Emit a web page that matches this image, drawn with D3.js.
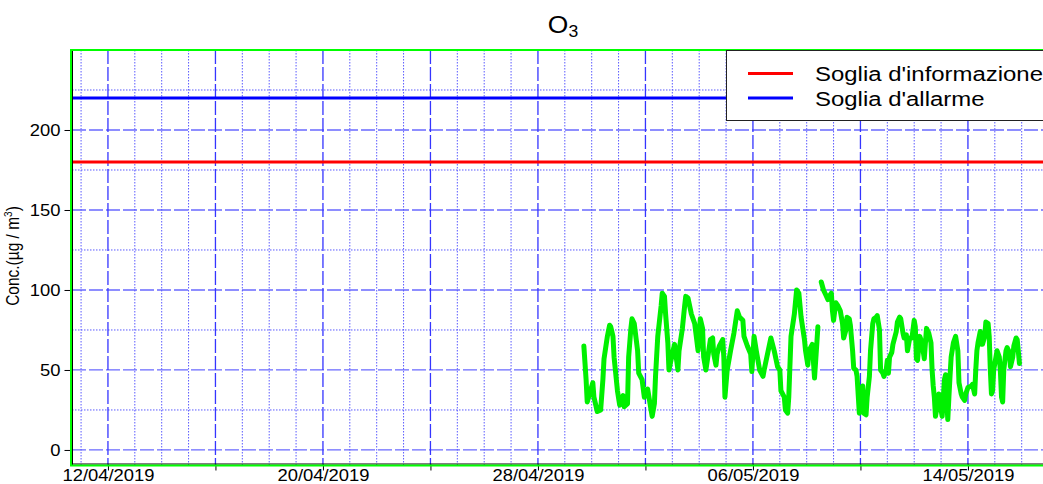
<!DOCTYPE html>
<html><head><meta charset="utf-8">
<script src="https://cdn.jsdelivr.net/npm/d3@7"></script>
<style>body{margin:0;background:#fff;} svg{display:block;font-family:"Liberation Sans",Arial,sans-serif;}</style>
</head><body><svg id="chart" width="1043" height="484"></svg>
<script>
// ---------- data ----------
const titleMain = "O";
const titleSub = "3";
const yLabelMain = "Conc.(µg / m";
const yLabelSup = "3";
const yLabelEnd = ")";
const yTicks = [0, 50, 100, 150, 200];
const yMinorGrid = [25, 75, 125, 175, 225];
const xTickDates = ["12/04/2019","16/04/2019","20/04/2019","24/04/2019","28/04/2019","02/05/2019","06/05/2019","10/05/2019","14/05/2019"];
const xTickLabels = ["12/04/2019","","20/04/2019","","28/04/2019","","06/05/2019","","14/05/2019"];
const xDomain = ["10/04/2019 15", "17/05/2019 12"];
const yDomain = [-9.4, 250];
const thresholdNames = ["Soglia d'informazione", "Soglia d'allarme"];
const thresholdValues = [180, 220];

const times = [
"29/04/2019 17","29/04/2019 19","29/04/2019 20","30/04/2019 01","30/04/2019 02","30/04/2019 05","30/04/2019 08","30/04/2019 10","30/04/2019 11","30/04/2019 14",
"30/04/2019 16","30/04/2019 17","30/04/2019 19","30/04/2019 20","30/04/2019 23","01/05/2019 01","01/05/2019 04","01/05/2019 05","01/05/2019 08","01/05/2019 09",
"01/05/2019 11","01/05/2019 12","01/05/2019 14","01/05/2019 17","01/05/2019 18","01/05/2019 21","01/05/2019 23","02/05/2019 02","02/05/2019 05","02/05/2019 06",
"02/05/2019 08","02/05/2019 09","02/05/2019 11","02/05/2019 14","02/05/2019 15","02/05/2019 17","02/05/2019 18","02/05/2019 20","02/05/2019 21","03/05/2019 00",
"03/05/2019 02","03/05/2019 05","03/05/2019 06","03/05/2019 09","03/05/2019 11","03/05/2019 12","03/05/2019 14","03/05/2019 17","03/05/2019 20","03/05/2019 23",
"04/05/2019 01","04/05/2019 03","04/05/2019 04","04/05/2019 06","04/05/2019 10","04/05/2019 12","04/05/2019 13","04/05/2019 15","04/05/2019 16","04/05/2019 18",
"04/05/2019 21","04/05/2019 22","04/05/2019 23","05/05/2019 01","05/05/2019 04","05/05/2019 07","05/05/2019 10","05/05/2019 12","05/05/2019 15","05/05/2019 16",
"05/05/2019 19","05/05/2019 22","05/05/2019 23","06/05/2019 01","06/05/2019 03","06/05/2019 06","06/05/2019 09","06/05/2019 10","06/05/2019 13","06/05/2019 16",
"06/05/2019 19","06/05/2019 22","07/05/2019 00","07/05/2019 01","07/05/2019 04","07/05/2019 05","07/05/2019 07","07/05/2019 08","07/05/2019 10","07/05/2019 13",
"07/05/2019 15","07/05/2019 17","07/05/2019 19","07/05/2019 22","07/05/2019 23","08/05/2019 01","08/05/2019 02","08/05/2019 05","08/05/2019 07","08/05/2019 09",
"08/05/2019 10","08/05/2019 11","08/05/2019 13","08/05/2019 15","08/05/2019 17","08/05/2019 19","08/05/2019 20","08/05/2019 22","08/05/2019 23","09/05/2019 00",
"09/05/2019 02","09/05/2019 04","09/05/2019 06","09/05/2019 08","09/05/2019 09","09/05/2019 11","09/05/2019 12","09/05/2019 14","09/05/2019 15","09/05/2019 17",
"09/05/2019 18","09/05/2019 20","09/05/2019 21","09/05/2019 23","10/05/2019 00","10/05/2019 02","10/05/2019 03","10/05/2019 05","10/05/2019 06","10/05/2019 08",
"10/05/2019 09","10/05/2019 11","10/05/2019 12","10/05/2019 14","10/05/2019 15","10/05/2019 17","10/05/2019 18","10/05/2019 20","10/05/2019 21","10/05/2019 23",
"11/05/2019 00","11/05/2019 01","11/05/2019 02","11/05/2019 04","11/05/2019 05","11/05/2019 08","11/05/2019 09","11/05/2019 11","11/05/2019 12","11/05/2019 14",
"11/05/2019 15","11/05/2019 17","11/05/2019 18","11/05/2019 20","11/05/2019 22","12/05/2019 00","12/05/2019 01","12/05/2019 02","12/05/2019 03","12/05/2019 05",
"12/05/2019 06","12/05/2019 08","12/05/2019 09","12/05/2019 11","12/05/2019 13","12/05/2019 15","12/05/2019 16","12/05/2019 17","12/05/2019 18","12/05/2019 19",
"12/05/2019 21","12/05/2019 22","13/05/2019 00","13/05/2019 01","13/05/2019 03","13/05/2019 04","13/05/2019 06","13/05/2019 07","13/05/2019 08","13/05/2019 09",
"13/05/2019 11","13/05/2019 13","13/05/2019 15","13/05/2019 16","13/05/2019 18","13/05/2019 19","13/05/2019 21","13/05/2019 22","14/05/2019 00","14/05/2019 03",
"14/05/2019 04","14/05/2019 06","14/05/2019 07","14/05/2019 08","14/05/2019 09","14/05/2019 11","14/05/2019 12","14/05/2019 13","14/05/2019 15","14/05/2019 16",
"14/05/2019 18","14/05/2019 19","14/05/2019 20","14/05/2019 21","14/05/2019 22","14/05/2019 23","15/05/2019 01","15/05/2019 02","15/05/2019 04","15/05/2019 05",
"15/05/2019 06","15/05/2019 07","15/05/2019 08","15/05/2019 10","15/05/2019 11","15/05/2019 13","15/05/2019 14","15/05/2019 16","15/05/2019 17","15/05/2019 19",
"15/05/2019 20","15/05/2019 22"
];
const o3Values = [
65,44,30,42,33,24,25,44,57,71,
78,77,71,58,37,28,34,27,29,58,
76,82,79,62,48,44,33,38,25,21,
29,46,71,90,98,96,85,67,50,60,
66,50,62,76,90,96,95,85,79,62,
82,76,58,50,69,70,60,53,60,65,
69,58,33,50,62,73,87,83,81,71,
65,60,49,71,62,50,46,50,60,70,
62,52,50,37,33,25,23,33,71,85,
100,98,83,69,62,53,62,66,45,66,
77,null,105,100,97,94,96,98,87,81,
92,90,87,79,70,75,83,82,78,62,
51,50,46,23,33,40,23,22,33,46,
62,79,82,83,84,75,50,48,46,50,
56,48,58,61,66,74,80,83,82,73,
70,72,62,70,70,81,77,57,56,71,
69,62,57,76,73,67,50,40,33,21,
29,35,25,21,44,47,19,33,46,58,
67,71,62,42,35,33,31,35,39,40,
41,35,50,62,67,74,66,66,71,80,
79,71,50,35,37,50,58,62,58,49,
33,30,50,62,64,61,52,58,65,70,
69,54
];

// ---------- styles ----------
const FONT_SX = 1.15;
const colInfo = "#ff0000", colAlarm = "#0000ff", colSeries = "#00f000";

// ---------- setup ----------
const svg = d3.select("#chart");
const parseH = d3.timeParse("%d/%m/%Y %H");
const parseD = d3.timeParse("%d/%m/%Y");
const pLeft = 71, pTop = 50, pBottom = 465, pRight = 1062;

const x = d3.scaleTime().domain(xDomain.map(parseH)).range([pLeft, pRight]);
const y = d3.scaleLinear().domain(yDomain).range([pBottom, pTop]);

const data = times.map((t, i) => ({t: parseH(t), v: o3Values[i]}));

// grid: horizontal
const g = svg.append("g");
g.selectAll(".hmaj").data(yTicks).join("line")
  .attr("x1", pLeft + 1).attr("x2", 1043)
  .attr("y1", d => y(d)).attr("y2", d => y(d))
  .attr("stroke", "#6a6aff").attr("stroke-width", 1.3).attr("stroke-dasharray", "14,3");
g.selectAll(".hmin").data(yMinorGrid).join("line")
  .attr("x1", pLeft + 1).attr("x2", 1043)
  .attr("y1", d => y(d)).attr("y2", d => y(d))
  .attr("stroke", "#5a5aff").attr("stroke-width", 1).attr("stroke-dasharray", "1.5,1.5");

// grid: vertical (daily dotted, 4-day dashed)
const dayLines = d3.timeDay.range(parseD("11/04/2019"), parseD("18/05/2019"));
const ref = parseD("12/04/2019");
g.selectAll(".vline").data(dayLines).join("line")
  .attr("x1", d => x(d)).attr("x2", d => x(d))
  .attr("y1", pTop).attr("y2", pBottom)
  .each(function(d) {
    const n = Math.round((d - ref) / 864e5);
    const major = ((n % 4) + 4) % 4 === 0;
    d3.select(this)
      .attr("stroke", major ? "#3535ff" : "#5a5aff")
      .attr("stroke-width", major ? 1.3 : 1)
      .attr("stroke-dasharray", major ? "14,3" : "1.5,1.5");
  });

// thresholds
const thrColors = [colInfo, colAlarm];
svg.selectAll(".thr").data(thresholdValues).join("line")
  .attr("x1", pLeft + 1).attr("x2", 1043)
  .attr("y1", d => y(d)).attr("y2", d => y(d))
  .attr("stroke", (d, i) => thrColors[i]).attr("stroke-width", 3);

// series
const line = d3.line().defined(d => d.v !== null).x(d => x(d.t)).y(d => y(d.v));
svg.append("path").datum(data)
  .attr("d", line).attr("fill", "none")
  .attr("stroke", colSeries).attr("stroke-width", 5)
  .attr("stroke-linejoin", "round").attr("stroke-linecap", "round");

// axes
const yAxis = d3.axisLeft(y).tickValues(yTicks).tickSize(8).tickSizeOuter(0);
const ya = svg.append("g").attr("transform", "translate(72.5,0)").call(yAxis);
ya.select(".domain").remove();
ya.selectAll(".tick line").attr("stroke", "#000");
ya.selectAll("text").attr("font-size", 16).attr("font-family", "Liberation Sans, Arial, sans-serif")
  .attr("fill", "#000").attr("x", -10.5).attr("transform", `scale(${FONT_SX},1)`);

const xAxis = d3.axisBottom(x).tickValues(xTickDates.map(parseD))
  .tickFormat((d, i) => xTickLabels[i]).tickSize(6).tickSizeOuter(0);
const xa = svg.append("g").attr("transform", "translate(0,464.5)").call(xAxis);
xa.select(".domain").remove();
xa.selectAll(".tick line").attr("stroke", "#000");
xa.selectAll("text").attr("font-size", 16).attr("font-family", "Liberation Sans, Arial, sans-serif")
  .attr("fill", "#000").attr("y", 5).attr("transform", `scale(${FONT_SX},1)`);

// black axis lines
svg.append("line").attr("x1", 72.5).attr("x2", 72.5).attr("y1", pTop).attr("y2", pBottom).attr("stroke", "#000");
svg.append("line").attr("x1", 72).attr("x2", 1043).attr("y1", 464).attr("y2", 464).attr("stroke", "#000");

// green frame
svg.append("rect").attr("x", 71).attr("y", 50).attr("width", pRight + 20 - 71).attr("height", 415.5)
  .attr("fill", "none").attr("stroke", "#00ff00").attr("stroke-width", 2);

// legend
const lg = svg.append("g");
lg.append("rect").attr("x", 726.5).attr("y", 50.5).attr("width", 340).attr("height", 70)
  .attr("fill", "#fff").attr("stroke", "#222").attr("stroke-width", 1);
thresholdNames.forEach((name, i) => {
  const ly = 73.5 + i * 24.5;
  lg.append("line").attr("x1", 748).attr("x2", 793).attr("y1", ly).attr("y2", ly)
    .attr("stroke", thrColors[i]).attr("stroke-width", 3);
  lg.append("text").attr("transform", `translate(815,${ly + 7.5}) scale(1.14,1)`)
    .attr("font-size", 21).attr("fill", "#000").text(name);
});

// title
const tt = svg.append("text").attr("transform", `translate(563,33) scale(1.1,1)`)
  .attr("text-anchor", "middle").attr("fill", "#000");
tt.append("tspan").attr("font-size", 24).text(titleMain);
tt.append("tspan").attr("font-size", 16).attr("dy", 4).text(titleSub);

// y label
const yl = svg.append("text").attr("transform", `translate(18.5,256) scale(${FONT_SX},1) rotate(-90)`)
  .attr("text-anchor", "middle").attr("font-size", 15.5).attr("fill", "#000");
yl.append("tspan").text(yLabelMain);
yl.append("tspan").attr("font-size", 10).attr("dy", -6).text(yLabelSup);
yl.append("tspan").attr("dy", 6).text(yLabelEnd);
</script>
</body></html>
